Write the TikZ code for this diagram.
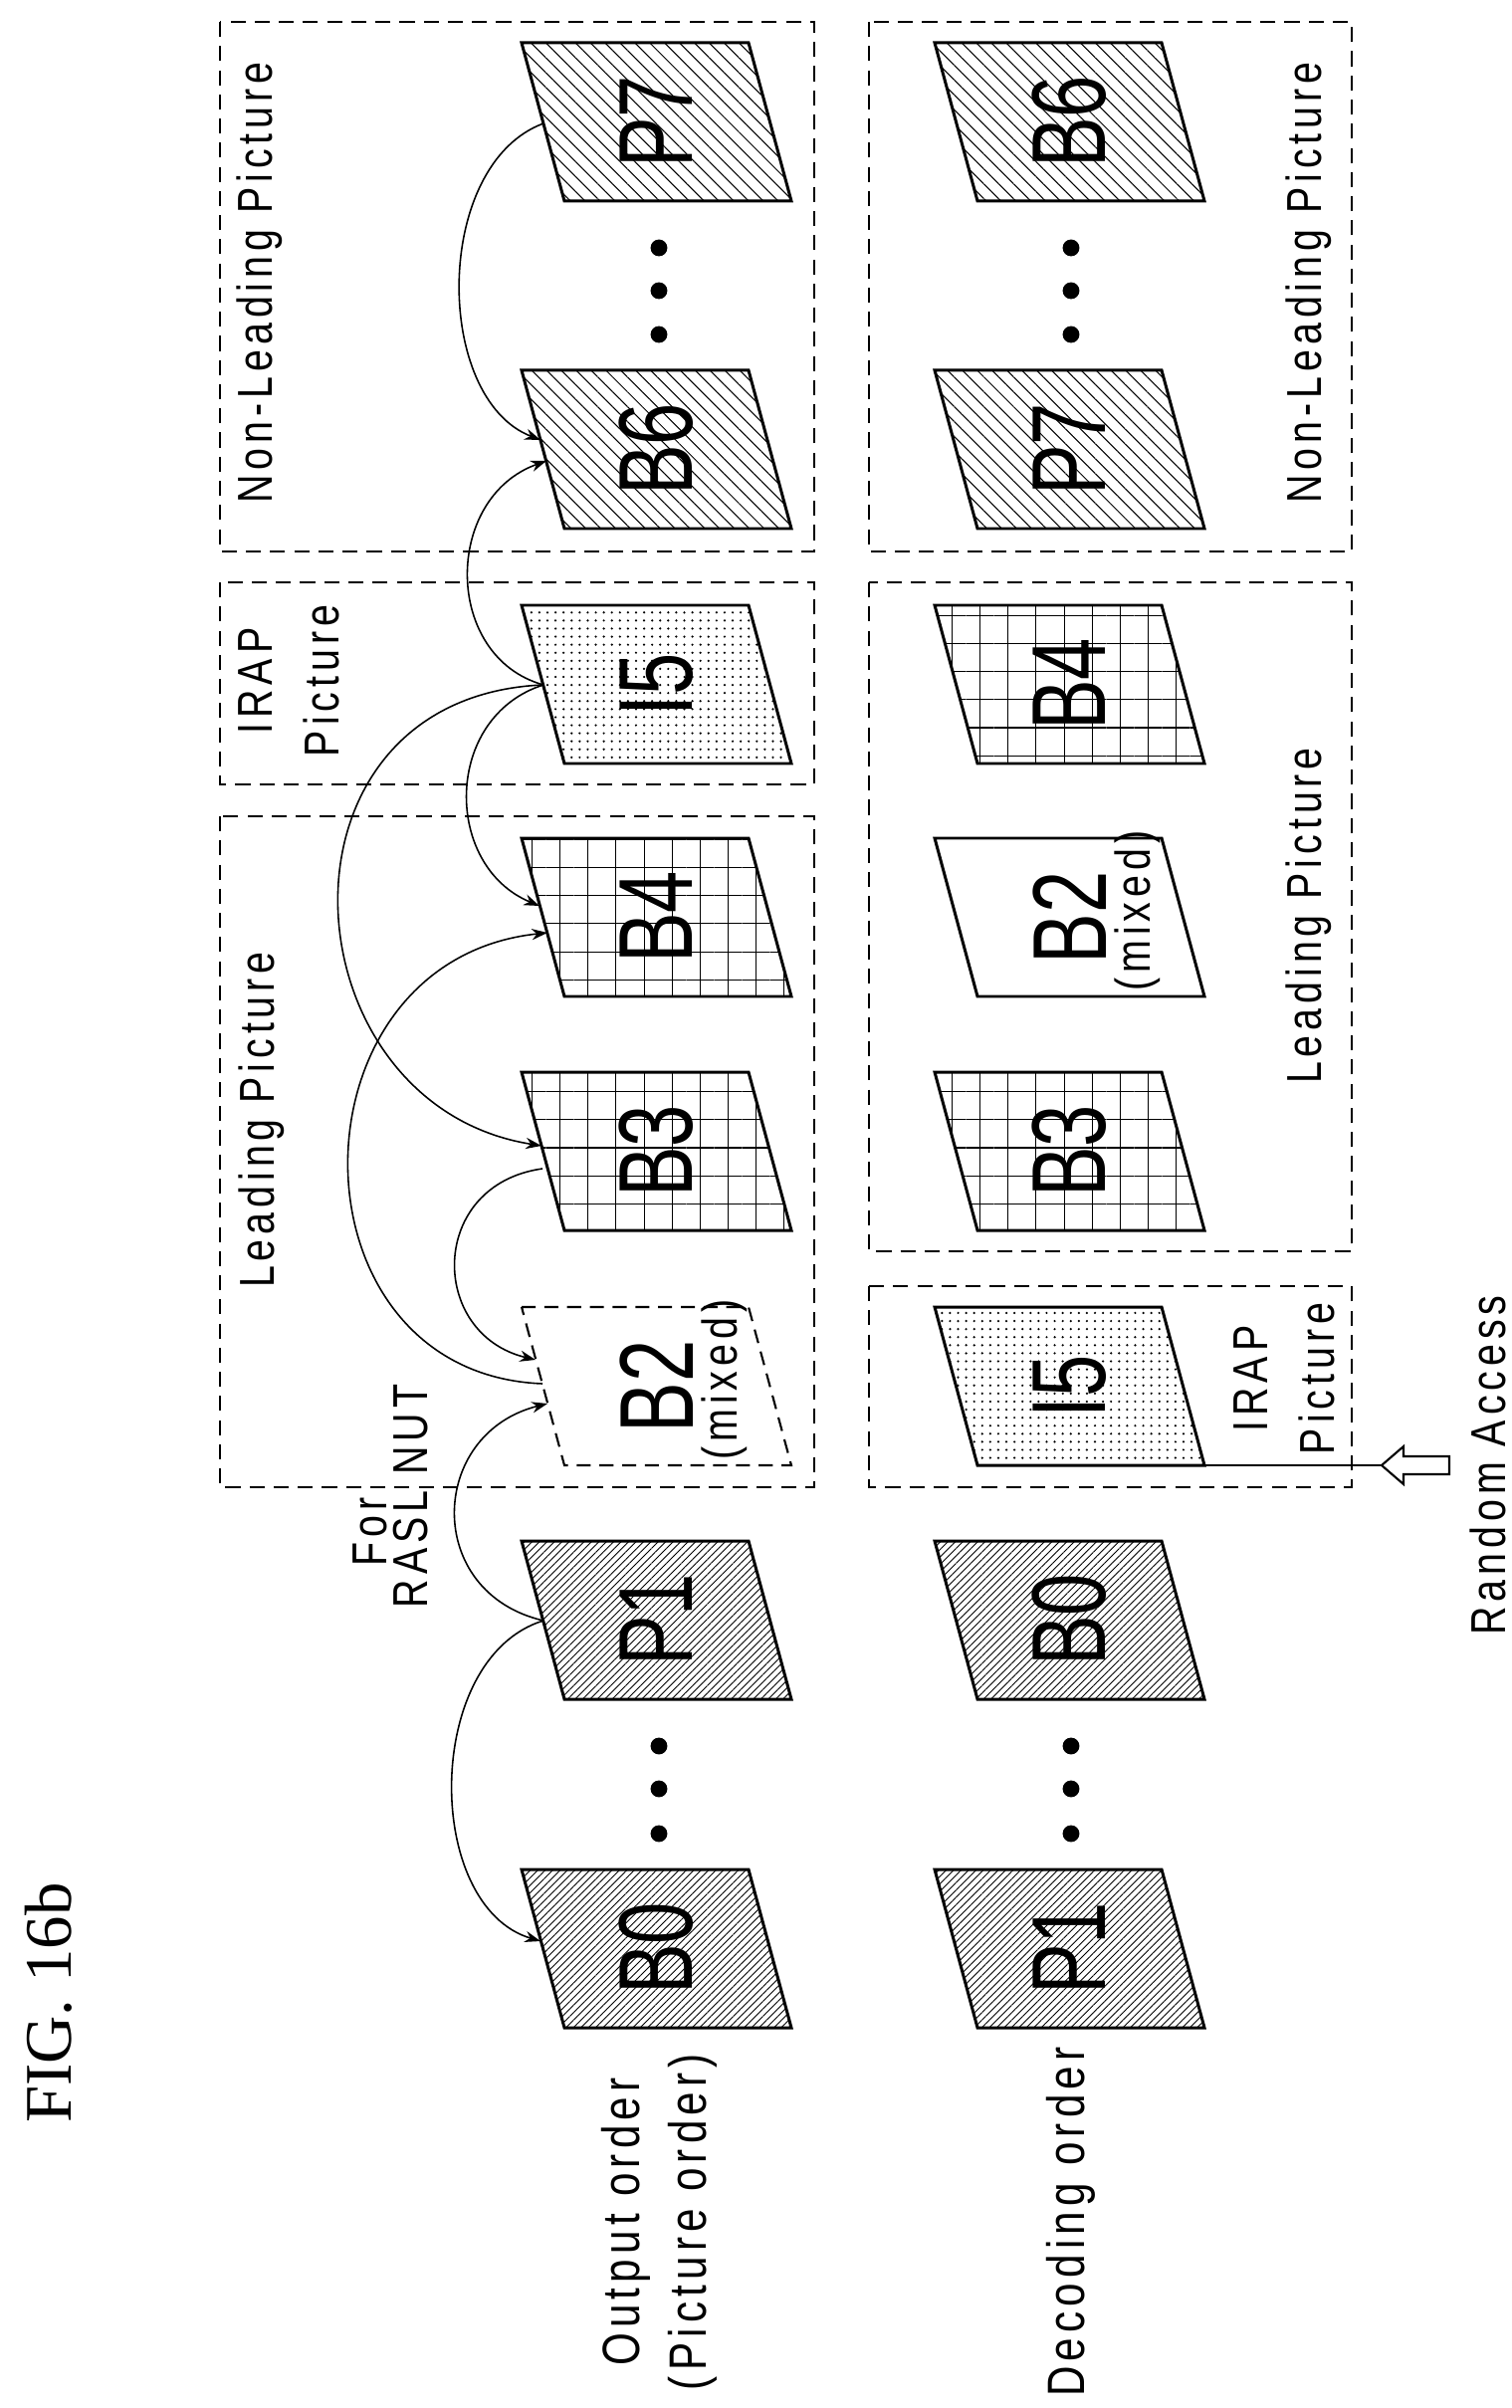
\documentclass[tikz,border=0pt]{standalone}
\usepackage{fontspec}
\setmainfont{Liberation Sans}
\newfontfamily\figfont{Liberation Serif}
\newfontfamily\bigf[FakeStretch=0.72]{Liberation Sans}
\newfontfamily\lblf[FakeStretch=0.8,LetterSpace=10]{Liberation Sans}
\usetikzlibrary{arrows.meta,patterns.meta}
\newcommand\pgram[5]{% name, xl, ytop, fill style, label
  \draw[pbord,#4] (#2,#3) -- ++(228,0) -- ++(43,159) -- ++(-228,0) -- cycle;
  \node[big] (#1) at (#2+135.5,#3+79.5) {#5};
}
\begin{document}
\begin{tikzpicture}[x=0.01cm,y=-0.01cm,
  pbord/.style={line width=0.85pt,line join=miter},
  big/.style={rotate=90,font=\bigf\fontsize{30}{30}\selectfont,inner sep=0pt},
  lbl/.style={rotate=90,font=\lblf\fontsize{14}{19}\selectfont,align=center,inner sep=0pt},
  box/.style={line width=0.6pt,dash pattern=on 4.3pt off 2.6pt},
  arc/.style={line width=0.45pt,-{Stealth[length=4.5pt,width=3.2pt]}},
  dot/.style={circle,fill=black,inner sep=0pt,minimum size=12\pgflinewidth},
  pd/.style={pattern={Lines[angle=45,distance=1.5pt,line width=0.25pt]}},
  pn/.style={pattern={Lines[angle=-45,distance=3pt,line width=0.3pt]}},
  pi/.style={pattern={Dots[distance=2.3pt,radius=0.35pt]}},
  pg/.style={pattern={Hatch[angle=0,distance=8pt,line width=0.3pt]}}]
\useasboundingbox (0,0) rectangle (1519,2419);
% dashed boxes
\draw[box] (221,22) rectangle (818,554);
\draw[box] (221,585) rectangle (818,788);
\draw[box] (221,820) rectangle (818,1494);
\draw[box] (873,22) rectangle (1358,554);
\draw[box] (873,585) rectangle (1358,1257);
\draw[box] (873,1292) rectangle (1358,1494);
% top row
\pgram{tP7}{524}{43}{pn}{P7}
\pgram{tB6}{524}{372}{pn}{B6}
\pgram{tI5}{524}{608}{pi}{I5}
\pgram{tB4}{524}{842}{pg}{B4}
\pgram{tB3}{524}{1077}{pg}{B3}
\draw[line width=0.6pt,dash pattern=on 4pt off 2.5pt] (524,1313) -- ++(228,0) -- ++(43,159) -- ++(-228,0) -- cycle;
\node[big] (tB2) at (660,1393) {B2};
\node[rotate=90,font=\lblf\fontsize{14}{14}\selectfont,inner sep=0pt] (tB2m) at (728,1386) {(mixed)};
\pgram{tP1}{524}{1548}{pd}{P1}
\pgram{tB0}{524}{1878}{pd}{B0}
% bottom row
\pgram{bB6}{939}{43}{pn}{B6}
\pgram{bP7}{939}{372}{pn}{P7}
\pgram{bB4}{939}{608}{pg}{B4}
\draw[pbord] (939,842) -- ++(228,0) -- ++(43,159) -- ++(-228,0) -- cycle;
\node[big] (bB2) at (1075,922) {B2};
\node[rotate=90,font=\lblf\fontsize{14}{14}\selectfont,inner sep=0pt] (bB2m) at (1143,915) {(mixed)};
\pgram{bB3}{939}{1077}{pg}{B3}
\pgram{bI5}{939}{1313}{pi}{I5}
\pgram{bB0}{939}{1548}{pd}{B0}
\pgram{bP1}{939}{1878}{pd}{P1}
% dots
\foreach \y in {249,292,336,1754,1797,1842}{
  \node[dot] at (662,\y) {};
  \node[dot] at (1076,\y) {};
}
% arcs
\coordinate (a1) at (546,124); \coordinate (a1e) at (543,442);
\draw[arc] (a1) .. controls (435,165) and (435,400) .. (a1e);
\coordinate (i5) at (546,688);
\coordinate (b6e) at (549,463);
\draw[arc] (i5) .. controls (445,660) and (445,500) .. (b6e);
\coordinate (b4e) at (542,910);
\draw[arc] (i5) .. controls (445,720) and (445,870) .. (b4e);
\coordinate (b3e) at (544,1151);
\draw[arc] (i5) .. controls (260,700) and (285,1110) .. (b3e);
\coordinate (b2s) at (545,1390); \coordinate (b4e2) at (550,937);
\draw[arc] (b2s) .. controls (285,1380) and (285,965) .. (b4e2);
\coordinate (b3s) at (545,1174); \coordinate (b2e) at (538,1366);
\draw[arc] (b3s) .. controls (430,1190) and (430,1340) .. (b2e);
\coordinate (p1s) at (546,1628); \coordinate (b2e2) at (550,1410);
\draw[arc] (p1s) .. controls (425,1600) and (430,1440) .. (b2e2);
\coordinate (b0e) at (543,1950);
\draw[arc] (p1s) .. controls (425,1665) and (425,1915) .. (b0e);
% labels
\node[lbl] (l1) at (261,284) {Non-Leading Picture};
\node[lbl] (l2) at (290,684) {IRAP\\Picture};
\node[lbl] (l3) at (263,1125) {Leading Picture};
\node[lbl] (l4) at (1315,284) {Non-Leading Picture};
\node[lbl] (l5) at (1315,920) {Leading Picture};
\node[lbl] (l6) at (1290,1385) {IRAP\\Picture};
\node[lbl] (l7) at (372,1539) {For};
\node[lbl] (l8) at (413,1503) {RASL NUT};
\node[lbl,font=\lblf\fontsize{15}{19}\selectfont] (l9) at (662,2232) {Output order\\(Picture order)};
\node[lbl,font=\lblf\fontsize{15}{19}\selectfont] (l10) at (1076,2232) {Decoding order};
\node[rotate=90,font=\figfont\fontsize{19}{19}\selectfont] (fig) at (49,2012) {FIG. 16b};
% random access
\coordinate (ra) at (1388,1472);
\draw[line width=0.5pt] (1210,1472) -- (ra);
\draw[line width=0.6pt] (ra) -- (1410,1453) -- (1410,1463) -- (1456,1463) -- (1456,1481) -- (1410,1481) -- (1410,1491) -- cycle;
\node[lbl] (rat) at (1495,1472) {Random Access};
\end{tikzpicture}
\end{document}
